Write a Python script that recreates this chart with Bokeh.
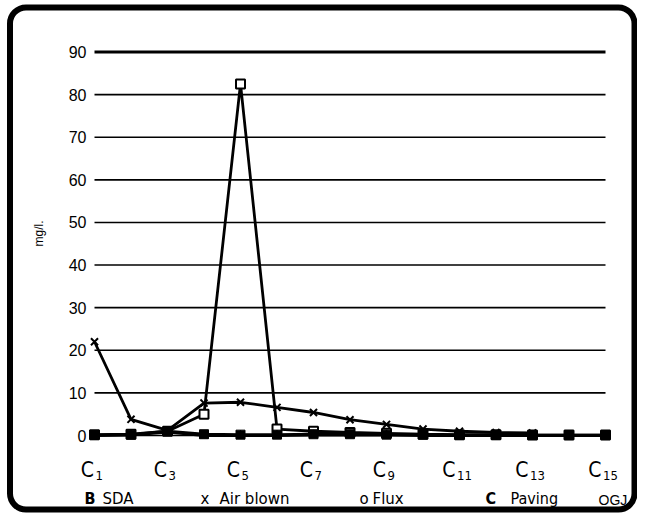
import math
from bokeh.plotting import figure
from bokeh.models import Range1d
from bokeh.core.properties import value
from bokeh.embed import file_html
from bokeh.resources import INLINE

# ---------------- data ----------------
categories = ["C1", "C2", "C3", "C4", "C5", "C6", "C7", "C8",
              "C9", "C10", "C11", "C12", "C13", "C14", "C15"]
x_pos = list(range(1, len(categories) + 1))

tick_main = ["C", "C", "C", "C", "C", "C", "C", "C"]
tick_sub = ["1", "3", "5", "7", "9", "11", "13", "15"]
tick_pos = [1, 3, 5, 7, 9, 11, 13, 15]

y_ticks = [0, 10, 20, 30, 40, 50, 60, 70, 80]
y_top_tick = [90]

sda = [0.1, 0.2, 1.0, 0.3, 0.2, 0.2, 0.3, 0.3, 0.2, 0.2, 0.1, 0.1, 0.1, 0.1, 0.1]
air_blown = [22.0, 3.8, 1.2, 7.6, 7.8, 6.6, 5.4, 3.7, 2.6, 1.5, 1.0, 0.7, 0.6,
             float("nan"), float("nan")]
flux = [0.2, 0.3, 1.0, 5.0, 82.5, 1.5, 1.0, 0.7, 0.5, 0.3, 0.2, 0.2, 0.1, 0.1, 0.1]
paving = [0.0, 0.1, 0.8, 0.0, 0.0, 0.0, 0.1, 0.1, 0.1, 0.0, 0.0, 0.0, 0.0, 0.0, 0.0]

legend_marks = ["B", "x", "o", "C"]
legend_names = ["SDA", "Air blown", "Flux", "Paving"]
y_title = "mg/l."
credit = "OGJ"

# ---------------- layout ----------------
W, H = 637, 513
PX_X = 36.5            # pixels per category step
X1 = 94.0              # canvas px of first category
PX_Y = 383.5 / 90.0    # pixels per mg/l
Y0 = 435.0             # canvas px of value 0
NARROW = "DejaVu Sans Condensed"

x_range = Range1d(1 - X1 / PX_X, 1 + (W - X1) / PX_X)
y_range = Range1d(-(H - Y0) / PX_Y, Y0 / PX_Y)


def cx(px):
    return x_range.start + px / PX_X


def cy(py):
    return y_range.end - py / PX_Y


def page_x(px):
    return cx(px - 8)


p = figure(width=W, height=H, x_range=x_range, y_range=y_range,
           output_backend="svg", toolbar_location=None,
           x_axis_type=None, y_axis_type=None, min_border=0,
           outline_line_color=None, background_fill_color="white",
           border_fill_color="white")

# frame
p.quad(left=[cx(9.5)], right=[cx(634)], top=[cy(7)], bottom=[cy(509)],
       fill_color=None, line_color="black", line_width=6, border_radius=16)

# grid lines
p.segment(x0=[x_pos[0]] * len(y_ticks), x1=[x_pos[-1]] * len(y_ticks),
          y0=y_ticks, y1=y_ticks, line_color="black", line_width=1.6)
p.segment(x0=[x_pos[0]], x1=[x_pos[-1]], y0=y_top_tick, y1=y_top_tick,
          line_color="black", line_width=3.2)

# y tick labels
all_ticks = y_ticks + y_top_tick
p.text(x=[x_pos[0]] * len(all_ticks), y=all_ticks, text=[str(v) for v in all_ticks],
       x_offset=-8, text_align="right", text_baseline="middle",
       text_font=value("Liberation Sans"), text_font_size="16px", text_color="black")

# y title
p.text(x=[cx(38)], y=[cy(233)], text=[y_title], angle=math.pi / 2,
       text_align="center", text_baseline="middle",
       text_font=value("Liberation Sans"), text_font_size="12px", text_color="black")

# x category labels with subscripts
main_off = [-0.5 - 3.5 * (len(s) - 1) for s in tick_sub]
sub_off = [o + 1.5 for o in main_off]
p.text(x=tick_pos, y=[0] * len(tick_pos), text=tick_main, x_offset=main_off, y_offset=34,
       text_align="right", text_baseline="alphabetic",
       text_font=value(NARROW), text_font_size="21px", text_color="black")
p.text(x=tick_pos, y=[0] * len(tick_pos), text=tick_sub, x_offset=sub_off, y_offset=40,
       text_align="left", text_baseline="alphabetic",
       text_font=value(NARROW), text_font_size="13px", text_color="black")

# series lines
p.line(x_pos, flux, line_color="black", line_width=2.8)
p.line(x_pos, paving, line_color="black", line_width=2.8)
p.line(x_pos, sda, line_color="black", line_width=2.8)
p.line(x_pos, air_blown, line_color="black", line_width=2.8)

# series markers
p.scatter(x_pos, flux, marker="square", size=9, fill_color="white", line_color="black",
          line_width=2)
p.scatter(x_pos, paving, marker="triangle", size=9, fill_color="black", line_color="black")
p.scatter(x_pos, sda, marker="square", size=9, fill_color="black", line_color="black")
p.scatter(x_pos, air_blown, marker="x", size=10, line_color="black", line_width=2)

# legend row (text under the axis)
mark_px = [92, 208, 367, 493]
name_px = [110, 227, 380, 518]
p.text(x=[page_x(mark_px[0]), page_x(mark_px[3])], y=[0, 0],
       text=[legend_marks[0], legend_marks[3]],
       y_offset=63, text_align="left", text_baseline="alphabetic",
       text_font=value(NARROW), text_font_style="bold",
       text_font_size="16px", text_color="black")
p.text(x=[page_x(v) for v in mark_px[1:3]], y=[0, 0], text=legend_marks[1:3],
       y_offset=63, text_align="left", text_baseline="alphabetic",
       text_font=value("DejaVu Sans"), text_font_size="15px", text_color="black")
p.text(x=[page_x(v) for v in name_px[:3]], y=[0, 0, 0], text=legend_names[:3],
       y_offset=63, text_align="left", text_baseline="alphabetic",
       text_font=value("DejaVu Sans"), text_font_size="15px", text_color="black")
p.text(x=[page_x(name_px[3])], y=[0], text=[legend_names[3]],
       y_offset=63, text_align="left", text_baseline="alphabetic",
       text_font=value(NARROW), text_font_size="16px", text_color="black")
p.text(x=[page_x(606)], y=[0], text=[credit],
       y_offset=64, text_align="left", text_baseline="alphabetic",
       text_font=value("Liberation Sans"), text_font_size="14px", text_color="black")

open("out.html", "w").write(file_html(p, INLINE))
